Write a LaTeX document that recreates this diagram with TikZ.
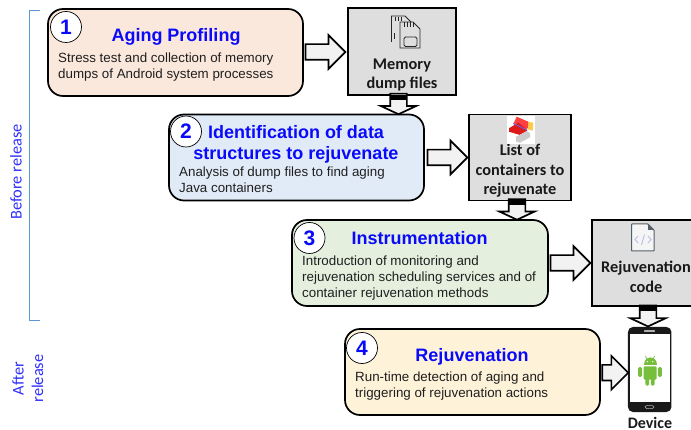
\documentclass[tikz,border=0pt]{standalone}
\usepackage{fontspec}
\setmainfont{Liberation Sans}
\newfontfamily\calib{Carlito}
\usetikzlibrary{shapes.arrows,calc}
\definecolor{hblue}{RGB}{10,10,250}
\definecolor{peach}{RGB}{251,232,220}
\definecolor{skyb}{RGB}{225,235,247}
\definecolor{mint}{RGB}{228,239,222}
\definecolor{cream}{RGB}{254,243,217}
\definecolor{grayb}{RGB}{222,222,222}
\definecolor{brk}{RGB}{91,150,215}
\definecolor{droid}{RGB}{118,190,60}
\definecolor{icong}{RGB}{85,95,105}
\tikzset{
  x=1pt,y=-1pt,
  stage/.style={draw=black,line width=1.7pt,rounded corners=15pt,inner sep=0pt},
  grayfile/.style={draw=black,line width=1.7pt,fill=grayb,inner sep=0pt},
  num/.style={draw=black,line width=0.7pt,fill=white,circle,minimum size=31pt,inner sep=0pt,text=hblue,font=\fontsize{21}{21}\selectfont\bfseries},
  htitle/.style={text=hblue,align=center,inner sep=0pt,font=\fontsize{18}{21}\selectfont\bfseries},
  body/.style={anchor=west,align=left,inner sep=0pt,text=black!88,font=\fontsize{13.35}{16}\selectfont},
  filelabel/.style={align=center,inner sep=0pt,text=black!90,font=\calib\fontsize{16.3}{19.5}\selectfont\bfseries},
  devlabel/.style={inner sep=0pt,text=black!90,font=\calib\fontsize{16}{16}\selectfont\bfseries},
  side/.style={text=hblue!85!white,inner sep=0pt,rotate=90,font=\calib\fontsize{16.4}{16.4}\selectfont},
  bigarrow/.style={single arrow,draw=black,line width=1.7pt,fill=black!5,inner sep=7pt,
    single arrow head extend=9pt,single arrow tip angle=90},
  downarrow/.style={single arrow,draw=black,line width=1.7pt,fill=black!5,inner sep=7.5pt,
    single arrow head extend=9.5pt,single arrow tip angle=130,shape border rotate=270},
}
\begin{document}
\begin{tikzpicture}
\useasboundingbox (0,0) rectangle (691,430);
\clip (0,0) rectangle (691,430);
% bracket
\coordinate (bt) at (40,10.5);
\coordinate (bb) at (40,321);
\draw[brk,line width=1pt] (bt) -| (29.5,321) -- (bb);
\node[side] (before) at (16,172) {Before release};
\node[side] (after) at (18,378.5) {After};
\node[side] (release) at (37.5,378.5) {release};
% stages
\node[stage,fill=peach,minimum width=255pt,minimum height=87pt] (s1) at (175.5,52.5) {};
\node[stage,fill=skyb,minimum width=255pt,minimum height=86pt] (s2) at (296.5,157.5) {};
\node[stage,fill=mint,minimum width=256pt,minimum height=86pt] (s3) at (420,263) {};
\node[stage,fill=cream,minimum width=255pt,minimum height=86pt] (s4) at (472.5,372) {};
% result boxes
\node[grayfile,minimum width=108pt,minimum height=87pt] (g1) at (402,51.5) {};
\node[grayfile,minimum width=102pt,minimum height=86pt] (g2) at (520,157.5) {};
\node[grayfile,minimum width=106pt,minimum height=86pt] (g3) at (645,263) {};
% phone
\node[fill=black!90,rounded corners=5pt,minimum width=43.5pt,minimum height=85pt,inner sep=0pt] (ph) at (649.7,369.5) {};
\node[fill=white,minimum width=40pt,minimum height=68pt,inner sep=0pt] (scr) at (649.5,368) {};
\node[fill=white,rounded corners=0.6pt,minimum width=11pt,minimum height=1.4pt,inner sep=0pt] (spk) at (649.5,331) {};
\node[draw=white!70!black,line width=.5pt,rounded corners=1.5pt,minimum width=9pt,minimum height=3pt,inner sep=0pt] (hm) at (649.5,407) {};
% android
\begin{scope}[shift={(650,365.5)}]
  \draw[droid,line width=.7pt] (-3,-6) -- (-4.5,-9.5) (3,-6) -- (4.5,-9.5);
  \fill[droid] (-6.5,0) .. controls (-6.5,-10.5) and (6.5,-10.5) .. (6.5,0) -- cycle;
  \fill[white] (-2.7,-3.8) circle (.7) (2.7,-3.8) circle (.7);
  \fill[droid,rounded corners=1pt] (-6.5,1) rectangle (6.5,14);
  \fill[droid,rounded corners=1.5pt] (-11.8,1.5) rectangle (-7.8,11.5) (7.8,1.5) rectangle (11.8,11.5);
  \fill[droid,rounded corners=1.2pt] (-4.6,10) rectangle (-0.9,20) (0.9,10) rectangle (4.6,20);
\end{scope}
% block arrows
\node[bigarrow,minimum height=40pt] (a1) at ($(s1.east)!.5!(g1.west)+(-4,0)$) {};
\node[bigarrow,minimum height=40pt] (a2) at ($(s2.east)!.5!(g2.west)+(-3,0)$) {};
\node[bigarrow,minimum height=40pt] (a3) at ($(s3.east)!.5!(g3.west)+(-3.5,0)$) {};
\node[bigarrow,minimum height=26pt] (a4) at ($(s4.east)!.5!(ph.west)+(-3,2)$) {};
\node[downarrow,minimum height=17pt] (d1) at (398.5,102) {};
\node[downarrow,minimum height=18pt] (d2) at (517,207.5) {};
\node[downarrow,minimum height=21pt] (d3) at (648,314) {};
\fill[black] (390.5,95) rectangle (406.5,100) (509,200) rectangle (525,205) (640,306) rectangle (656,311);
% numbers
\node[num] (n1) at (66,27) {1};
\node[num] (n2) at (186,131.5) {2};
\node[num] (n3) at (309.5,238) {3};
\node[num] (n4) at (362,348) {4};
% titles
\node[htitle] (t1) at (176,37) {Aging Profiling};
\node[htitle] (t2) at (296,144) {Identification of data\\structures to rejuvenate};
\node[htitle] (t3) at (419.5,238) {Instrumentation};
\node[htitle] (t4) at (472,357) {Rejuvenation};
% bodies
\node[body] (b1) at (58,67.5) {Stress test and collection of memory\\dumps of Android system processes};
\node[body] (b2) at (179,180) {Analysis of dump files to find aging\\Java containers};
\node[body] (b3) at (302,278) {Introduction of monitoring and\\rejuvenation scheduling services and of\\container rejuvenation methods};
\node[body] (b4) at (355,386.5) {Run-time detection of aging and\\triggering of rejuvenation actions};
% file labels
\node[filelabel] (l1) at (402,75) {Memory\\dump files};
\node[filelabel] (l2) at (520,171) {List of\\containers to\\rejuvenate};
\node[filelabel] (l3) at (646,277) {Rejuvenation\\code};
\node[devlabel] (l4) at (650,422.5) {Device};
% sd card icon
\begin{scope}[line width=.9pt,black!85]
  \draw (391.5,42) -- (391.5,16) -- (405,16) -- (412,23);
  \draw[fill=grayb] (400,48) -- (400,22) -- (413,22) -- (420,29) -- (420,48) -- cycle;
  \draw[rounded corners=1.5pt] (404,37) rectangle (417,46.5);
  \draw (395,17) -- (395,21) (398,17) -- (398,21) (401,17) -- (401,21) (404,22.5) -- (404,27) (407,22.5) -- (407,27) (410,22.5) -- (410,27) (413,23) -- (413,27);
  \draw (394,33) -- (394,39);
\end{scope}
% bricks icon
\fill[white] (507,116) rectangle (535,144);
\fill[orange!60!yellow!70!white] (526.7,121.7) -- (533.3,122.7) -- (532.7,130.7) -- (527.7,129.3) -- cycle;
\fill[red!75!white] (516.7,116.7) -- (528.3,121.7) -- (527.7,128.3) -- (520,131) -- (513.3,124) -- cycle;
\fill[red!85!black!90!white] (509,128.3) -- (518.3,122.7) -- (527.3,130) -- (526.7,131) -- (520,135) -- (509,131.7) -- cycle;
\draw[blue!60!white,line width=.8pt] (513.3,123.3) -- (526.7,130);
\fill[black!20] (516,136.7) -- (526.7,131) -- (530,133.3) -- (530,137.3) -- (520,142.7) -- (516,141.7) -- cycle;
% code icon
\draw[icong,line width=1pt,fill=white!96!black,rounded corners=.6pt] (631.5,224) -- (648,224) -- (654,230) -- (654,251) -- (631.5,251) -- cycle;
\fill[icong] (648,224) -- (654,230) -- (648,230) -- cycle;
\draw[blue!25!white!85!gray,line width=.8pt] (638,236) -- (635,239.5) -- (638,243) (648,236) -- (651,239.5) -- (648,243) (644.5,234.5) -- (641.5,245);
\end{tikzpicture}
\end{document}
